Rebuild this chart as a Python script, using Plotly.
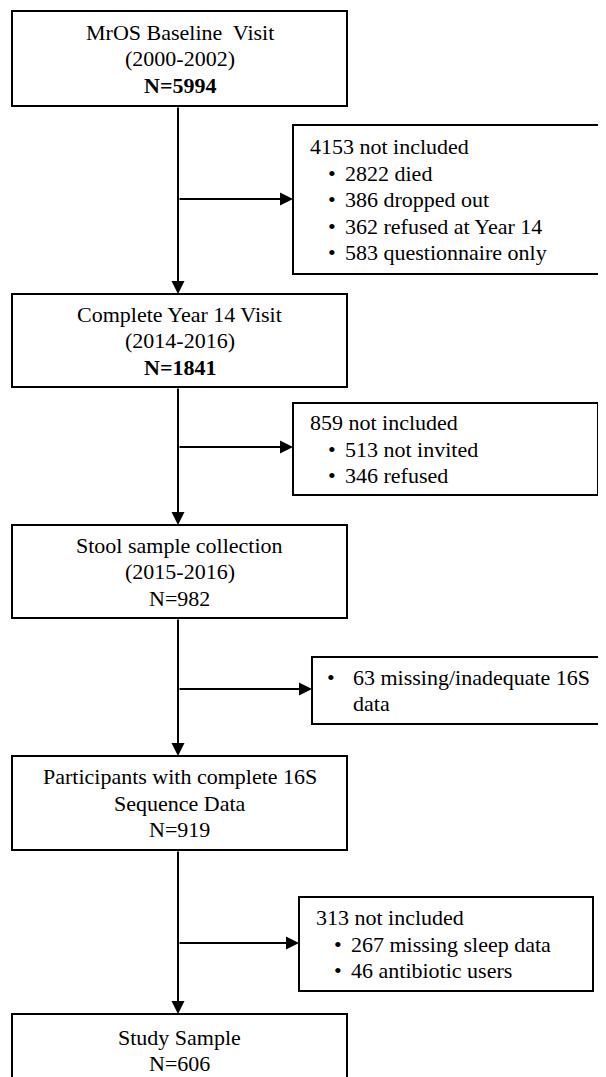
import plotly.graph_objects as go

# ---- content (text data) ----
main_titles = ["MrOS Baseline&nbsp; Visit", "Complete Year 14 Visit", "Stool sample collection",
               "Participants with complete 16S", "Study Sample"]
main_subtitles = ["(2000-2002)", "(2014-2016)", "(2015-2016)", "Sequence Data", None]
main_counts = [5994, 1841, 982, 919, 606]
main_bold = [True, True, False, False, False]

excl_headers = ["4153 not included", "859 not included", None, "313 not included"]
excl_items = [
    ["2822 died", "386 dropped out", "362 refused at Year 14", "583 questionnaire only"],
    ["513 not invited", "346 refused"],
    ["63 missing/inadequate 16S"],
    ["267 missing sleep data", "46 antibiotic users"],
]
excl_continuation = [None, None, "data", None]

# ---- layout geometry (pixels, y downward) ----
MAIN_X0, MAIN_X1 = 12, 347
MAIN_CX = 178
main_boxes_y = [(11, 106), (294, 387), (525, 618), (756, 850), (1014, 1090)]
side_boxes = [  # x0, x1, y0, y1, arrow_y
    (293, 612, 125, 274, 199),
    (293, 598, 403, 495, 447),
    (312, 612, 657, 724, 689),
    (299, 593, 897, 991, 943),
]
LINE_H = 26.5
FONT = "Liberation Serif, Times New Roman, serif"
FS = 22
PAGE_OFF = 8  # default body margin of the html page

fig = go.Figure()
shapes = []
annotations = []

def rect(x0, x1, y0, y1):
    shapes.append(dict(type="rect", xref="x", yref="y", x0=x0, x1=x1, y0=y0, y1=y1,
                       line=dict(color="black", width=2), fillcolor="white", layer="above"))

def text(x, y, s, anchor="center", size=FS):
    annotations.append(dict(x=x, y=y, xref="x", yref="y", text=s, showarrow=False,
                            xanchor=anchor, yanchor="middle",
                            font=dict(family=FONT, size=size, color="black")))

def arrow(x_tail, y_tail, x_tip, y_tip):
    annotations.append(dict(x=x_tip, y=y_tip, ax=x_tail, ay=y_tail, xref="x", yref="y",
                            axref="x", ayref="y", text="", showarrow=True,
                            arrowhead=2, arrowsize=1.3, arrowwidth=2, arrowcolor="black",
                            standoff=0, startstandoff=0))

# main boxes
for i, (y0, y1) in enumerate(main_boxes_y):
    rect(MAIN_X0, MAIN_X1, y0, y1)
    lines = [main_titles[i]]
    if main_subtitles[i]:
        lines.append(main_subtitles[i])
    n = f"N={main_counts[i]}"
    lines.append(f"<b>{n}</b>" if main_bold[i] else n)
    if i < len(main_boxes_y) - 1:
        cy = (y0 + y1) / 2
    else:
        cy = y0 + 36.5
    start = cy - (len(lines) - 1) * LINE_H / 2
    for k, s in enumerate(lines):
        text(MAIN_CX + 1.5, start + k * LINE_H, s)

# vertical connectors
for i in range(len(main_boxes_y) - 1):
    arrow(MAIN_CX, main_boxes_y[i][1], MAIN_CX, main_boxes_y[i + 1][0])

# side boxes
for j, (x0, x1, y0, y1, ay) in enumerate(side_boxes):
    rect(x0, x1, y0, y1)
    arrow(MAIN_CX, ay, x0, ay)
    lines = []
    if excl_headers[j]:
        lines.append(("h", excl_headers[j]))
    for it in excl_items[j]:
        lines.append(("b", it))
    if excl_continuation[j]:
        lines.append(("c", excl_continuation[j]))
    cy = (y0 + y1) / 2
    start = cy - (len(lines) - 1) * LINE_H / 2
    for k, (kind, s) in enumerate(lines):
        yy = start + k * LINE_H
        if kind == "h":
            text(x0 + 15, yy, s, anchor="left")
        elif kind == "b":
            if j == 2:
                text(x0 + 13, yy, "•", anchor="left")
                text(x0 + 39, yy, s, anchor="left")
            else:
                text(x0 + 33, yy, "•", anchor="left")
                text(x0 + 50, yy, s, anchor="left")
        else:
            text(x0 + 39, yy, s, anchor="left")

fig.update_layout(
    width=606, height=1077,
    margin=dict(l=0, r=0, t=0, b=0),
    paper_bgcolor="white", plot_bgcolor="white",
    xaxis=dict(range=[PAGE_OFF, 606 + PAGE_OFF], visible=False, fixedrange=True),
    yaxis=dict(range=[1077 + PAGE_OFF, PAGE_OFF], visible=False, fixedrange=True),
    shapes=shapes, annotations=annotations, showlegend=False,
)
fig.write_html("out.html", config={"displayModeBar": False})
